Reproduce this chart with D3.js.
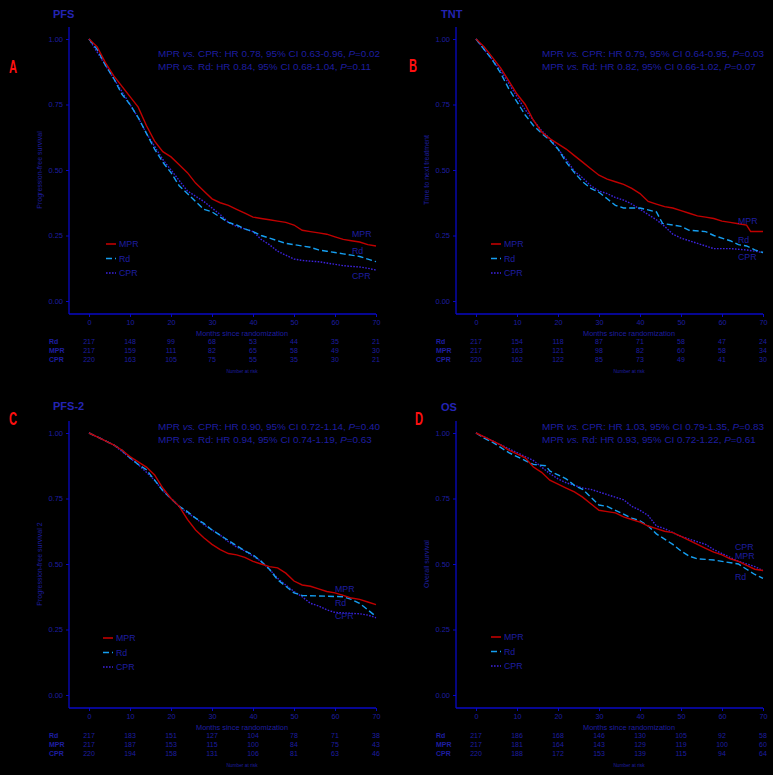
<!DOCTYPE html>
<html>
<head>
<meta charset="utf-8">
<script src="https://cdn.jsdelivr.net/npm/d3@7.9.0/dist/d3.min.js"></script>
<style>
  html, body { margin: 0; padding: 0; background: #000; }
  svg { display: block; font-family: "Liberation Sans", Arial, sans-serif; }
</style>
</head>
<body>
<div id="chart"></div>
<script>
// ---- data ----
const legendGroups = ['MPR', 'Rd', 'CPR'];
const riskGroups = ['Rd', 'MPR', 'CPR'];
const monthTicks = [0, 10, 20, 30, 40, 50, 60, 70];
const survTicks = [0, 0.25, 0.5, 0.75, 1];

// A: PFS
const pfsMPR = [[0,1],[2,0.97],[4,0.91],[6,0.86],[8,0.82],[10,0.78],[12,0.74],[14,0.67],[16,0.61],[18,0.57],[20,0.55],[22,0.52],[24,0.49],[26,0.45],[28,0.42],[30,0.39],[32,0.375],[34,0.365],[36,0.35],[38,0.335],[40,0.32],[42,0.315],[44,0.31],[46,0.305],[48,0.3],[50,0.29],[52,0.27],[54,0.265],[56,0.26],[58,0.255],[60,0.245],[62,0.235],[64,0.23],[66,0.225],[68,0.215],[70,0.21]];
const pfsRd = [[0,1],[2,0.96],[4,0.9],[6,0.85],[8,0.79],[10,0.75],[12,0.7],[14,0.64],[16,0.58],[18,0.53],[20,0.49],[22,0.44],[24,0.41],[26,0.38],[28,0.35],[30,0.34],[32,0.32],[34,0.3],[36,0.29],[38,0.275],[40,0.265],[42,0.25],[44,0.24],[46,0.23],[48,0.22],[50,0.215],[52,0.21],[54,0.205],[56,0.195],[58,0.19],[60,0.185],[62,0.18],[64,0.175],[66,0.17],[68,0.16],[70,0.15]];
const pfsCPR = [[0,1],[2,0.95],[4,0.9],[6,0.85],[8,0.8],[10,0.75],[12,0.7],[14,0.64],[16,0.59],[18,0.54],[20,0.5],[22,0.46],[24,0.42],[26,0.4],[28,0.38],[30,0.355],[32,0.33],[34,0.3],[36,0.285],[38,0.275],[40,0.265],[42,0.235],[44,0.215],[46,0.19],[48,0.175],[50,0.16],[52,0.155],[54,0.152],[56,0.15],[58,0.145],[60,0.14],[62,0.135],[64,0.132],[66,0.13],[68,0.125],[70,0.118]];
const pfsRiskRd = [217, 148, 99, 68, 53, 44, 35, 21];
const pfsRiskMPR = [217, 159, 111, 82, 65, 58, 49, 30];
const pfsRiskCPR = [220, 163, 105, 75, 55, 35, 30, 21];
const pfsHR = [['CPR', '0.78', '0.63-0.96', '0.02'], ['Rd', '0.84', '0.68-1.04', '0.11']];

// B: TNT
const tntMPR = [[0,1],[2,0.97],[4,0.93],[6,0.89],[8,0.84],[10,0.79],[12,0.75],[14,0.69],[16,0.645],[18,0.62],[20,0.6],[22,0.58],[24,0.555],[26,0.53],[28,0.505],[30,0.48],[32,0.465],[34,0.455],[36,0.445],[38,0.43],[40,0.41],[42,0.38],[44,0.37],[46,0.36],[48,0.355],[50,0.345],[52,0.335],[54,0.325],[56,0.32],[58,0.315],[60,0.305],[62,0.3],[64,0.295],[66,0.29],[67,0.265],[70,0.265]];
const tntRd = [[0,1],[2,0.96],[4,0.92],[6,0.87],[8,0.81],[10,0.76],[12,0.71],[14,0.67],[16,0.64],[18,0.615],[20,0.58],[22,0.53],[24,0.49],[26,0.455],[28,0.43],[30,0.415],[32,0.39],[34,0.365],[36,0.355],[40,0.355],[44,0.34],[45.5,0.296],[50,0.285],[52,0.27],[56,0.265],[58,0.25],[62,0.23],[64,0.215],[66,0.21],[68,0.195],[70,0.185]];
const tntCPR = [[0,1],[2,0.96],[4,0.92],[6,0.88],[8,0.83],[10,0.78],[12,0.73],[14,0.69],[16,0.65],[18,0.62],[20,0.58],[22,0.54],[24,0.495],[26,0.47],[28,0.44],[30,0.42],[32,0.41],[34,0.395],[36,0.385],[38,0.37],[40,0.35],[42,0.33],[44,0.31],[46,0.285],[48,0.255],[50,0.24],[52,0.23],[54,0.22],[56,0.21],[58,0.2],[62,0.2],[66,0.195],[68,0.19],[70,0.185]];
const tntRiskRd = [217, 154, 118, 87, 71, 58, 47, 24];
const tntRiskMPR = [217, 163, 121, 98, 82, 60, 58, 34];
const tntRiskCPR = [220, 162, 122, 85, 73, 49, 41, 30];
const tntHR = [['CPR', '0.79', '0.64-0.95', '0.03'], ['Rd', '0.82', '0.66-1.02', '0.07']];

// C: PFS-2
const pfs2MPR = [[0,1],[2,0.985],[4,0.97],[6,0.955],[8,0.935],[10,0.91],[12,0.89],[14,0.87],[16,0.84],[18,0.79],[20,0.75],[22,0.72],[24,0.67],[26,0.63],[28,0.6],[30,0.575],[32,0.555],[34,0.54],[36,0.535],[38,0.525],[40,0.51],[42,0.5],[44,0.49],[46,0.485],[48,0.465],[50,0.435],[52,0.42],[54,0.415],[56,0.405],[58,0.395],[60,0.39],[62,0.38],[64,0.37],[66,0.365],[68,0.355],[70,0.345]];
const pfs2Rd = [[0,1],[2,0.985],[4,0.97],[6,0.955],[8,0.935],[10,0.905],[12,0.88],[14,0.86],[16,0.82],[18,0.78],[20,0.75],[22,0.72],[24,0.7],[26,0.675],[28,0.655],[30,0.63],[32,0.61],[34,0.59],[36,0.57],[38,0.55],[40,0.535],[42,0.51],[44,0.48],[46,0.44],[48,0.415],[50,0.39],[52,0.38],[62,0.375],[64,0.365],[66,0.35],[68,0.325],[70,0.3]];
const pfs2CPR = [[0,1],[2,0.985],[4,0.97],[6,0.955],[8,0.93],[10,0.905],[12,0.88],[14,0.85],[16,0.82],[18,0.78],[20,0.75],[22,0.72],[24,0.695],[26,0.675],[28,0.65],[30,0.63],[32,0.61],[34,0.585],[36,0.565],[38,0.55],[40,0.53],[42,0.51],[44,0.48],[46,0.445],[48,0.42],[50,0.395],[52,0.375],[54,0.35],[56,0.34],[58,0.325],[60,0.315],[66,0.31],[68,0.305],[70,0.295]];
const pfs2RiskRd = [217, 183, 151, 127, 104, 78, 71, 38];
const pfs2RiskMPR = [217, 187, 153, 115, 100, 84, 75, 43];
const pfs2RiskCPR = [220, 194, 158, 131, 106, 81, 63, 46];
const pfs2HR = [['CPR', '0.90', '0.72-1.14', '0.40'], ['Rd', '0.94', '0.74-1.19', '0.63']];

// D: OS
const osMPR = [[0,1],[2,0.985],[4,0.97],[6,0.955],[8,0.935],[10,0.92],[12,0.905],[14,0.87],[16,0.85],[18,0.82],[20,0.805],[22,0.79],[24,0.775],[26,0.755],[28,0.73],[30,0.705],[32,0.7],[34,0.695],[36,0.68],[38,0.67],[40,0.66],[42,0.645],[44,0.635],[46,0.625],[48,0.62],[50,0.605],[52,0.59],[54,0.575],[56,0.56],[58,0.545],[60,0.535],[62,0.52],[64,0.51],[66,0.495],[68,0.48],[70,0.475]];
const osRd = [[0,1],[2,0.98],[4,0.965],[6,0.945],[8,0.925],[10,0.91],[12,0.895],[14,0.88],[17,0.875],[18,0.855],[20,0.84],[22,0.825],[24,0.8],[26,0.785],[28,0.755],[30,0.725],[32,0.72],[34,0.705],[36,0.69],[38,0.675],[40,0.665],[42,0.645],[44,0.615],[46,0.595],[48,0.575],[50,0.55],[52,0.53],[54,0.52],[58,0.515],[60,0.51],[64,0.5],[66,0.48],[68,0.46],[70,0.445]];
const osCPR = [[0,1],[2,0.985],[4,0.97],[6,0.955],[8,0.94],[10,0.925],[12,0.91],[14,0.895],[16,0.87],[18,0.845],[20,0.825],[22,0.81],[24,0.8],[26,0.79],[28,0.785],[30,0.775],[32,0.765],[34,0.755],[36,0.745],[38,0.72],[40,0.705],[42,0.685],[44,0.645],[46,0.635],[48,0.62],[50,0.605],[52,0.595],[54,0.585],[56,0.575],[58,0.555],[60,0.54],[62,0.525],[64,0.51],[66,0.5],[68,0.49],[70,0.475]];
const osRiskRd = [217, 186, 168, 146, 130, 105, 92, 58];
const osRiskMPR = [217, 181, 164, 143, 129, 119, 100, 60];
const osRiskCPR = [220, 188, 172, 153, 139, 115, 94, 64];
const osHR = [['CPR', '1.03', '0.79-1.35', '0.83'], ['Rd', '0.93', '0.72-1.22', '0.61']];

// ---- styles ----
const textColor = '#1e1ea0';
const axisColor = '#0808c4';
const styles = {
  MPR: { color: '#c00000', dash: null },
  Rd:  { color: '#159ef0', dash: '6,3' },
  CPR: { color: '#3c22dc', dash: '1.6,1.4' },
};

// panel layout (pixel placements within the page)
const panels = [
  { letter: 'A', title: 'PFS', yLabel: 'Progression-free survival', dx: 0, dy: 0,
    curves: { MPR: pfsMPR, Rd: pfsRd, CPR: pfsCPR },
    risk: { Rd: pfsRiskRd, MPR: pfsRiskMPR, CPR: pfsRiskCPR }, hr: pfsHR,
    letterPos: [13, 67], titlePos: [53, 14], hrPos: [158, 54],
    legend: { x: 106, y: 244 }, ends: { x: 352, MPR: 234, Rd: 251, CPR: 276 } },
  { letter: 'B', title: 'TNT', yLabel: 'Time to next treatment', dx: 387, dy: 0,
    curves: { MPR: tntMPR, Rd: tntRd, CPR: tntCPR },
    risk: { Rd: tntRiskRd, MPR: tntRiskMPR, CPR: tntRiskCPR }, hr: tntHR,
    letterPos: [26, 66], titlePos: [54, 14], hrPos: [155, 54],
    legend: { x: 104, y: 244 }, ends: { x: 351, MPR: 221, Rd: 240, CPR: 257 } },
  { letter: 'C', title: 'PFS-2', yLabel: 'Progression-free survival 2', dx: 0, dy: 394,
    curves: { MPR: pfs2MPR, Rd: pfs2Rd, CPR: pfs2CPR },
    risk: { Rd: pfs2RiskRd, MPR: pfs2RiskMPR, CPR: pfs2RiskCPR }, hr: pfs2HR,
    letterPos: [13, 25], titlePos: [53, 12], hrPos: [158, 33],
    legend: { x: 103, y: 244 }, ends: { x: 335, MPR: 195, Rd: 209, CPR: 222 } },
  { letter: 'D', title: 'OS', yLabel: 'Overall survival', dx: 387, dy: 394,
    curves: { MPR: osMPR, Rd: osRd, CPR: osCPR },
    risk: { Rd: osRiskRd, MPR: osRiskMPR, CPR: osRiskCPR }, hr: osHR,
    letterPos: [32, 25], titlePos: [54, 13], hrPos: [155, 33],
    legend: { x: 104, y: 243 }, ends: { x: 348, CPR: 153, MPR: 162, Rd: 183 } },
];

const W = 773, H = 775;
const svg = d3.select('#chart').append('svg')
  .attr('width', W).attr('height', H)
  .style('background', '#000');

const lineGen = (x, y) => d3.line()
  .x(d => x(d[0]))
  .y(d => y(d[1]));

function drawPanel(p) {
  const g = svg.append('g').attr('transform', `translate(${p.dx},${p.dy})`);
  const axisX = 69, axisY = 314, axisTop = 27;
  const x = d3.scaleLinear().domain([0, 70]).range([89, 376]);
  const y = d3.scaleLinear().domain([0, 1]).range([301, 39]);

  // axis lines
  g.append('line').attr('x1', axisX).attr('x2', axisX).attr('y1', axisTop).attr('y2', axisY)
    .attr('stroke', axisColor).attr('stroke-width', 1.3);
  g.append('line').attr('x1', axisX).attr('x2', x(70)).attr('y1', axisY).attr('y2', axisY)
    .attr('stroke', axisColor).attr('stroke-width', 1.3);

  // y axis
  const ya = g.append('g').attr('transform', `translate(${axisX},0)`)
    .call(d3.axisLeft(y).tickValues(survTicks).tickFormat(d3.format('.2f')).tickSize(3).tickPadding(3));
  ya.select('.domain').remove();
  ya.selectAll('line').attr('stroke', axisColor);
  ya.selectAll('text').attr('fill', textColor).style('font-size', '7.5px')
    .style('font-family', '"Liberation Sans", Arial, sans-serif');

  // x axis
  const xa = g.append('g').attr('transform', `translate(0,${axisY})`)
    .call(d3.axisBottom(x).tickValues(monthTicks).tickSize(3).tickPadding(3));
  xa.select('.domain').remove();
  xa.selectAll('line').attr('stroke', axisColor);
  xa.selectAll('text').attr('fill', textColor).style('font-size', '7.2px')
    .style('font-family', '"Liberation Sans", Arial, sans-serif');

  g.append('text').attr('x', 242).attr('y', 333).attr('dy', '0.35em')
    .attr('text-anchor', 'middle').attr('fill', textColor).style('font-size', '7.4px')
    .text('Months since randomization');

  g.append('text')
    .attr('transform', `translate(40,${(y(0) + y(1)) / 2}) rotate(-90)`)
    .attr('text-anchor', 'middle').attr('dy', '0.35em')
    .attr('fill', textColor).style('font-size', '7px')
    .text(p.yLabel);

  // curves
  ['CPR', 'Rd', 'MPR'].forEach(k => {
    g.append('path').datum(p.curves[k])
      .attr('d', lineGen(x, y))
      .attr('fill', 'none')
      .attr('stroke', styles[k].color)
      .attr('stroke-width', 1.4)
      .attr('stroke-dasharray', styles[k].dash);
  });

  // end labels
  legendGroups.forEach(k => {
    g.append('text').attr('x', p.ends.x).attr('y', p.ends[k]).attr('dy', '0.35em')
      .attr('fill', textColor).style('font-size', '8.8px').text(k);
  });

  // legend
  legendGroups.forEach((k, i) => {
    const ly = p.legend.y + i * 14.5;
    g.append('line').attr('x1', p.legend.x).attr('x2', p.legend.x + 10)
      .attr('y1', ly).attr('y2', ly)
      .attr('stroke', styles[k].color).attr('stroke-width', 1.6)
      .attr('stroke-dasharray', styles[k].dash);
    g.append('text').attr('x', p.legend.x + 13).attr('y', ly).attr('dy', '0.35em')
      .attr('fill', textColor).style('font-size', '8.8px').text(k);
  });

  // hazard ratio annotation
  p.hr.forEach((h, i) => {
    const t = g.append('text').attr('x', p.hrPos[0]).attr('y', p.hrPos[1] + i * 12.3)
      .attr('dy', '0.35em').attr('fill', textColor).style('font-size', '9.9px');
    t.append('tspan').text('MPR ');
    t.append('tspan').style('font-style', 'italic').text('vs.');
    t.append('tspan').text(` ${h[0]}: HR ${h[1]}, 95% CI ${h[2]}, `);
    t.append('tspan').style('font-style', 'italic').text('P');
    t.append('tspan').text(`=${h[3]}`);
  });

  // title and panel letter
  g.append('text').attr('x', p.titlePos[0]).attr('y', p.titlePos[1]).attr('dy', '0.35em')
    .attr('fill', '#2424b4').style('font-size', '11px').style('font-weight', 'bold')
    .text(p.title);
  g.append('text')
    .attr('transform', `translate(${p.letterPos[0]},${p.letterPos[1]}) scale(0.62,1)`)
    .attr('dy', '0.36em')
    .attr('text-anchor', 'middle').attr('fill', '#ff1010')
    .style('font-size', '18px').style('font-weight', 'bold')
    .text(p.letter);

  // number at risk table
  riskGroups.forEach((k, i) => {
    const ry = 342 + i * 9;
    g.append('text').attr('x', 49).attr('y', ry).attr('dy', '0.35em')
      .attr('fill', textColor).style('font-size', '7px').style('font-weight', 'bold').text(k);
    g.selectAll(null).data(p.risk[k]).join('text')
      .attr('x', (d, j) => x(monthTicks[j])).attr('y', ry).attr('dy', '0.35em')
      .attr('text-anchor', 'middle').attr('fill', textColor).style('font-size', '7px')
      .text(d => d);
  });
  g.append('text').attr('x', 242).attr('y', 371).attr('dy', '0.35em')
    .attr('text-anchor', 'middle').attr('fill', textColor).style('font-size', '4.8px')
    .text('Number at risk');
}

panels.forEach(drawPanel);
</script>
</body>
</html>
